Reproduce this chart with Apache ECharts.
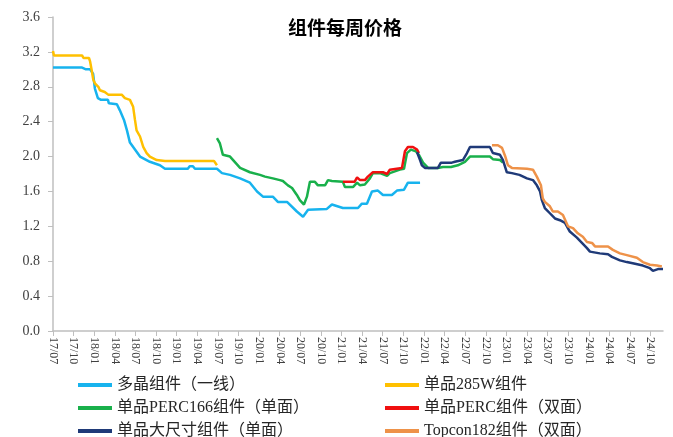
<!DOCTYPE html>
<html>
<head>
<meta charset="utf-8">
<script src="https://cdn.jsdelivr.net/npm/echarts@6/dist/echarts.min.js"></script>
<style>html,body{margin:0;padding:0;background:#fff;}#c{width:673px;height:437px;}</style>
</head>
<body>
<div id="c"></div>
<script>
// ---- data ----
const seriesNames = ['多晶组件（一线）', '单品285W组件', '单品PERC166组件（单面）', '单品PERC组件（双面）', '单品大尺寸组件（单面）', 'Topcon182组件（双面）'];
const xTickLabels = ['17/07','17/10','18/01','18/04','18/07','18/10','19/01','19/04','19/07','19/10','20/01','20/04','20/07','20/10','21/01','21/04','21/07','21/10','22/01','22/04','22/07','22/10','23/01','23/04','23/07','23/10','24/01','24/04','24/07','24/10'];
const yTickValues = [0, 0.4, 0.8, 1.2, 1.6, 2.0, 2.4, 2.8, 3.2, 3.6];

const polyDates = ['2017-07-01','2017-11-08','2017-11-25','2017-12-13','2017-12-26','2018-01-04','2018-01-17','2018-01-31','2018-03-01','2018-03-05','2018-04-10','2018-04-23','2018-05-11','2018-05-24','2018-06-07','2018-06-29','2018-07-21','2018-09-04','2018-10-18','2018-11-10','2019-02-20','2019-02-28','2019-03-12','2019-03-21','2019-06-27','2019-07-19','2019-08-24','2019-10-08','2019-11-21','2019-12-22','2020-01-18','2020-03-01','2020-03-23','2020-05-03','2020-06-16','2020-07-13','2020-08-05','2020-10-27','2020-11-19','2021-01-07','2021-03-13','2021-03-30','2021-04-22','2021-05-14','2021-06-10','2021-07-02','2021-08-11','2021-09-03','2021-10-04','2021-10-21','2021-12-14'];
const polyVals = [3.02,3.02,3.00,3.00,2.95,2.78,2.67,2.65,2.65,2.61,2.60,2.53,2.42,2.30,2.16,2.08,2.00,1.94,1.90,1.86,1.86,1.89,1.89,1.86,1.86,1.81,1.79,1.75,1.70,1.60,1.54,1.54,1.48,1.48,1.37,1.31,1.39,1.40,1.45,1.41,1.41,1.46,1.46,1.60,1.61,1.56,1.56,1.61,1.62,1.70,1.70];

const mono285Dates = ['2017-07-01','2017-07-05','2017-11-08','2017-11-14','2017-12-08','2017-12-13','2017-12-20','2017-12-27','2018-01-04','2018-01-19','2018-01-26','2018-02-17','2018-03-02','2018-05-01','2018-05-15','2018-06-07','2018-06-21','2018-06-29','2018-07-06','2018-07-21','2018-08-05','2018-08-20','2018-09-04','2018-10-04','2018-11-10','2019-06-14','2019-06-18','2019-06-27'];
const mono285Vals = [3.21,3.16,3.16,3.13,3.13,3.09,2.99,2.88,2.84,2.80,2.76,2.74,2.71,2.71,2.67,2.65,2.57,2.42,2.30,2.23,2.11,2.04,2.00,1.96,1.95,1.95,1.93,1.90];

const perc166Dates = ['2019-06-27','2019-07-10','2019-07-23','2019-08-24','2019-10-08','2019-11-21','2020-01-05','2020-01-27','2020-03-01','2020-04-02','2020-04-15','2020-05-07','2020-05-25','2020-06-16','2020-06-29','2020-07-17','2020-07-30','2020-08-13','2020-09-05','2020-09-18','2020-10-19','2020-11-02','2020-11-19','2021-01-07','2021-01-16','2021-02-21','2021-03-09','2021-03-22','2021-04-13','2021-05-05','2021-05-18','2021-06-19','2021-07-20','2021-08-02','2021-09-16','2021-10-04','2021-10-17','2021-11-04','2021-11-26','2021-12-09','2021-12-27','2022-01-19','2022-03-02','2022-03-24','2022-04-29','2022-05-29','2022-06-30','2022-07-22','2022-10-19','2022-11-02','2022-12-03','2022-12-16'];
const perc166Vals = [2.21,2.15,2.02,2.00,1.87,1.82,1.79,1.77,1.75,1.73,1.72,1.67,1.64,1.56,1.50,1.45,1.54,1.71,1.71,1.67,1.67,1.73,1.72,1.71,1.65,1.65,1.70,1.67,1.68,1.75,1.81,1.81,1.78,1.81,1.85,1.86,2.04,2.08,2.06,2.02,1.93,1.87,1.87,1.88,1.88,1.90,1.94,2.00,2.00,1.97,1.96,1.93];

const percBiDates = ['2021-01-07','2021-02-28','2021-03-09','2021-03-22','2021-04-13','2021-04-26','2021-05-18','2021-07-02','2021-07-20','2021-08-02','2021-09-25','2021-10-08','2021-10-21','2021-11-13','2021-12-01','2021-12-09'];
const percBiVals = [1.71,1.71,1.76,1.73,1.73,1.77,1.82,1.82,1.80,1.85,1.87,2.06,2.11,2.11,2.08,2.04];

const largeDates = ['2021-12-01','2021-12-14','2021-12-22','2022-01-05','2022-03-02','2022-03-15','2022-05-03','2022-05-16','2022-06-21','2022-07-09','2022-07-22','2022-10-19','2022-11-02','2022-12-03','2022-12-16','2023-01-03','2023-01-25','2023-02-28','2023-04-01','2023-04-27','2023-05-14','2023-05-28','2023-06-06','2023-06-19','2023-07-11','2023-08-03','2023-08-25','2023-09-17','2023-10-08','2023-11-09','2023-12-01','2023-12-23','2024-01-06','2024-02-19','2024-03-25','2024-04-12','2024-05-17','2024-06-17','2024-07-23','2024-08-27','2024-09-28','2024-10-11','2024-11-03','2024-11-25'];
const largeVals = [2.05,1.96,1.90,1.87,1.87,1.93,1.93,1.94,1.96,2.04,2.11,2.11,2.04,2.02,1.96,1.82,1.81,1.79,1.75,1.73,1.67,1.60,1.50,1.41,1.35,1.29,1.27,1.24,1.14,1.07,1.01,0.95,0.91,0.89,0.88,0.85,0.81,0.79,0.77,0.75,0.72,0.69,0.71,0.71];

const topconDates = ['2022-10-28','2022-11-24','2022-12-12','2022-12-25','2023-01-08','2023-01-25','2023-04-01','2023-04-27','2023-05-14','2023-06-02','2023-06-10','2023-06-19','2023-07-11','2023-07-24','2023-08-16','2023-09-08','2023-09-30','2023-10-22','2023-11-13','2023-12-05','2023-12-23','2024-01-15','2024-01-28','2024-03-25','2024-04-16','2024-05-17','2024-06-17','2024-08-01','2024-08-27','2024-09-28','2024-10-29','2024-11-20'];
const topconVals = [2.13,2.13,2.10,2.01,1.90,1.87,1.86,1.85,1.77,1.67,1.52,1.48,1.43,1.37,1.37,1.33,1.20,1.18,1.12,1.08,1.02,1.01,0.97,0.97,0.93,0.89,0.87,0.84,0.79,0.76,0.75,0.74];

// ---- helpers ----
function toMonths(s) {
  const p = s.split('-').map(Number);
  return (p[0] - 2017) * 12 + (p[1] - 7) + (p[2] - 1) / 30;
}
function pairs(dates, vals) { return dates.map((d, i) => [toMonths(d), vals[i]]); }

const colors = ['#17B3EE', '#FFC000', '#19B04B', '#F01010', '#1F3A78', '#EE9249'];
const allData = [
  pairs(polyDates, polyVals),
  pairs(mono285Dates, mono285Vals),
  pairs(perc166Dates, perc166Vals),
  pairs(percBiDates, percBiVals),
  pairs(largeDates, largeVals),
  pairs(topconDates, topconVals)
];
const tickVals = xTickLabels.map((_, i) => i * 3);

const legendText = { fontFamily: "'Liberation Serif','Noto Sans CJK SC'", fontSize: 16, lineHeight: 16, color: '#262626' };
const legendBase = {
  orient: 'vertical', top: 377, height: 80, padding: 0, itemGap: 7,
  icon: 'rect', itemWidth: 34, itemHeight: 4,
  textStyle: legendText
};

const chart = echarts.init(document.getElementById('c'), null, { renderer: 'canvas' });
chart.setOption({
  animation: false,
  backgroundColor: '#fff',
  title: {
    text: '组件每周价格',
    left: 283, top: 13,
    textStyle: { fontFamily: "'Noto Sans CJK SC'", fontWeight: 'bold', fontSize: 19, color: '#000' }
  },
  legend: [
    Object.assign({}, legendBase, { left: 78, data: [seriesNames[0], seriesNames[2], seriesNames[4]] }),
    Object.assign({}, legendBase, { left: 385, data: [seriesNames[1], seriesNames[3], seriesNames[5]] })
  ],
  grid: { left: 53, right: 10, top: 17, bottom: 106, containLabel: false },
  xAxis: {
    type: 'value', min: 0, max: 88.8, interval: 3,
    splitLine: { show: false },
    axisLine: { lineStyle: { color: '#BFBFBF', width: 1.5 } },
    axisTick: { show: true, length: 5, lineStyle: { color: '#BFBFBF' }, customValues: tickVals },
    axisLabel: {
      customValues: tickVals,
      rotate: -90, margin: 6,
      fontFamily: "'Liberation Serif'", fontSize: 12, color: '#404040',
      formatter: v => xTickLabels[Math.round(v / 3)] || ''
    }
  },
  yAxis: {
    type: 'value', min: 0, max: 3.6, interval: 0.4,
    splitLine: { show: false },
    axisLine: { show: true, lineStyle: { color: '#BFBFBF', width: 1.5 } },
    axisTick: { show: true, length: 5, lineStyle: { color: '#BFBFBF' } },
    axisLabel: {
      margin: 13,
      fontFamily: "'Liberation Serif'", fontSize: 14, color: '#404040',
      formatter: v => v.toFixed(1)
    }
  },
  series: seriesNames.map((n, i) => ({
    name: n, type: 'line', data: allData[i],
    showSymbol: false, symbol: 'none',
    lineStyle: { width: 2.5, color: colors[i] },
    itemStyle: { color: colors[i] }
  }))
});
</script>
</body>
</html>
